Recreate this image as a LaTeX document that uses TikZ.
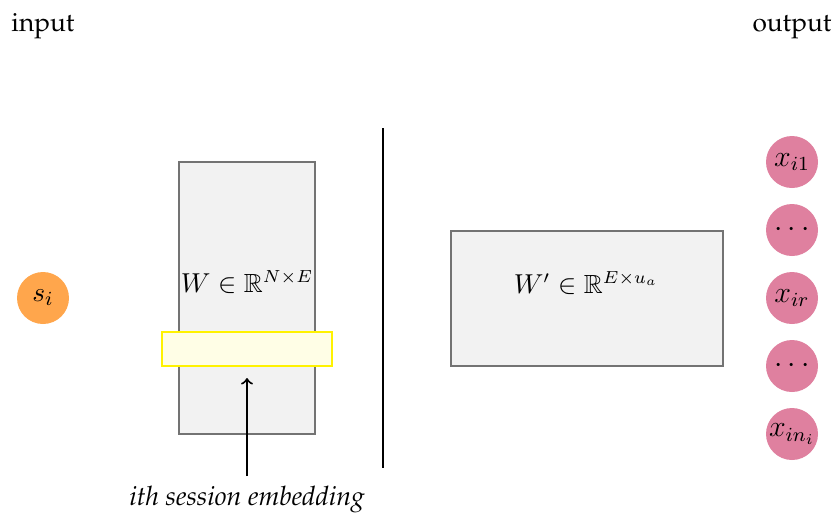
\documentclass[tikz,border=0pt]{standalone}
\usepackage[T1]{fontenc}
\usepackage{amssymb}
\begin{document}
\begin{tikzpicture}[x=0.4pt,y=-0.4pt,
  txt/.style={font=\fontfamily{ppl}\fontsize{10.5}{12}\selectfont, inner sep=0},
  itxt/.style={font=\fontfamily{ppl}\fontsize{10.7}{12}\selectfont\itshape, inner sep=0},
  mth/.style={font=\fontsize{10.5}{13}\selectfont, inner sep=0},
  mat/.style={draw=gray!90!black, fill=gray!10, thick, inner sep=0},
  inp/.style={circle, fill=orange!70, minimum size=20.8pt, inner sep=0, font=\fontsize{11}{13}\selectfont},
  outc/.style={circle, fill=purple!50, minimum size=20.8pt, inner sep=0, font=\fontsize{11.5}{13}\selectfont}]
\useasboundingbox (0,0) rectangle (833,515);
\node[txt, anchor=base] (in) at (43,31) {input};
\node[txt, anchor=base] (out) at (792,31) {output};
\node[inp] (s) at (43,298) {$s_i$};
\node[mat, minimum width=54.4pt, minimum height=108.8pt] (W) at (247,298) {};
\node[mth] (Wl) at (247,282) {$W \in \mathbb{R}^{N\times E}$};
\node[draw=yellow, fill=yellow!10, thick, minimum width=68pt, minimum height=13.6pt, inner sep=0] (emb) at (247,349) {};
\node[itxt, anchor=base] (lbl) at (247,505) {ith session embedding};
\coordinate (tail) at (247,476);
\draw[->, thick] (tail) -- ([yshift=-4.4pt]emb.south);
\coordinate (vt) at (383,128);
\coordinate (vb) at (383,468);
\draw[thick] (vt) -- (vb);
\node[mat, minimum width=108.8pt, minimum height=54pt] (Wp) at (587,298.5) {};
\node[mth] (Wpl) at (586,283) {$W' \in \mathbb{R}^{E\times u_a}$};
\node[outc] (x1) at (792,162) {$x_{i1}$};
\node[outc] (d1) at (792,230) {$\cdots$};
\node[outc] (xr) at (792,298) {$x_{ir}$};
\node[outc] (d2) at (792,366) {$\cdots$};
\node[outc] (xn) at (792,434) {$x_{in_i}$};
\end{tikzpicture}
\end{document}
